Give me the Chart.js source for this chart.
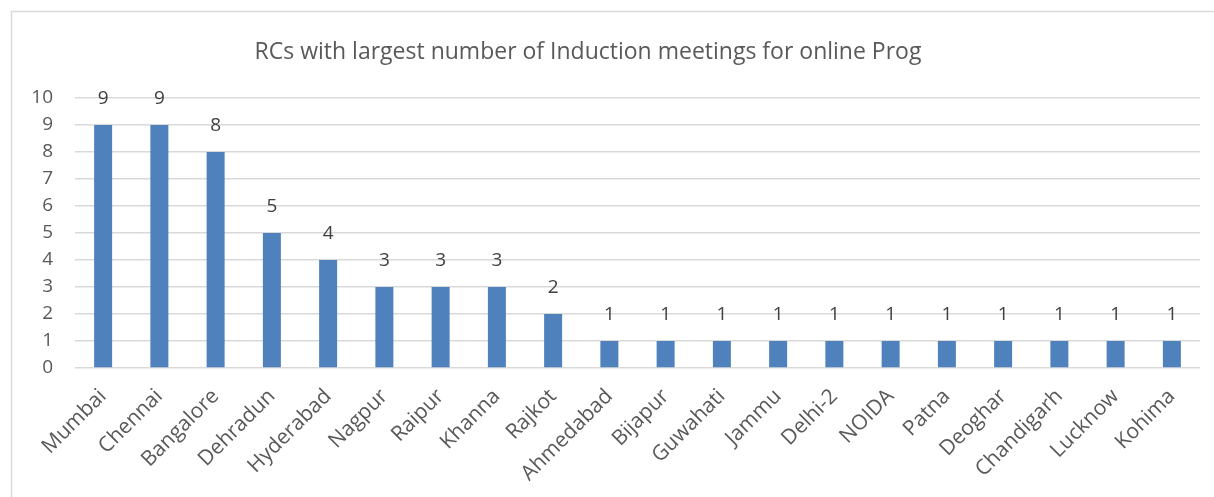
<!DOCTYPE html>
<html>
<head>
<meta charset="utf-8">
<script src="https://cdn.jsdelivr.net/npm/chart.js@4/dist/chart.umd.min.js"></script>
<style>
html,body{margin:0;padding:0;background:#fff;}
#wrap{width:1214px;height:497px;position:relative;}
</style>
</head>
<body>
<div id="wrap"><canvas id="c" width="1214" height="497"></canvas></div>
<script>
const titleText = "RCs with largest number of Induction meetings for online Prog";
const categories = ["Mumbai","Chennai","Bangalore","Dehradun","Hyderabad","Nagpur","Raipur","Khanna","Rajkot","Ahmedabad","Bijapur","Guwahati","Jammu","Delhi-2","NOIDA","Patna","Deoghar","Chandigarh","Lucknow","Kohima"];
const meetings = [9,9,8,5,4,3,3,3,2,1,1,1,1,1,1,1,1,1,1,1];
const yTicks = [0,1,2,3,4,5,6,7,8,9,10];

const FONT = "'Open Sans', sans-serif";
const TXT = "#595959";

const borderPlugin = {
  id: 'frame',
  beforeDraw(chart){
    const ctx = chart.ctx;
    ctx.save();
    ctx.fillStyle = '#fff';
    ctx.fillRect(0,0,chart.width,chart.height);
    ctx.strokeStyle = '#d9d9d9';
    ctx.lineWidth = 1.5;
    ctx.strokeRect(11.5, 11.5, chart.width + 10, chart.height + 10);
    ctx.restore();
  },
  afterLayout(chart){
    // centre the title on the (wider) chart frame, as in the original
    if (chart.titleBlock) { chart.titleBlock.left -= 36; }
  }
};

const valueLabels = {
  id: 'valueLabels',
  afterDatasetsDraw(chart){
    const ctx = chart.ctx;
    const meta = chart.getDatasetMeta(0);
    ctx.save();
    ctx.font = "19px " + FONT;
    ctx.fillStyle = "#404040";
    ctx.textAlign = 'center';
    ctx.textBaseline = 'middle';
    meta.data.forEach((bar, i) => {
      ctx.fillText(String(meetings[i]), bar.x, bar.y - 26);
    });
    ctx.restore();
  }
};

new Chart(document.getElementById('c'), {
  type: 'bar',
  data: {
    labels: categories,
    datasets: [{
      data: meetings,
      backgroundColor: '#4F81BD',
      borderWidth: 0,
      barPercentage: 0.32,
      categoryPercentage: 1.0
    }]
  },
  options: {
    responsive: false,
    animation: false,
    devicePixelRatio: 1,
    layout: { padding: { left: 12, right: 14, top: 0, bottom: 0 } },
    plugins: {
      legend: { display: false },
      tooltip: { enabled: false },
      title: {
        display: true,
        text: titleText,
        color: TXT,
        font: { family: FONT, size: 23, weight: 'normal', lineHeight: 1.2 },
        padding: { top: 39, bottom: 31.4 }
      }
    },
    scales: {
      x: {
        grid: { display: false, drawTicks: false },
        border: { display: false },
        ticks: {
          color: TXT,
          font: { family: FONT, size: 21 },
          maxRotation: 45,
          minRotation: 45,
          autoSkip: false,
          padding: 16
        },
        afterFit(s){ s.height = 129; }
      },
      y: {
        min: 0,
        max: 10,
        afterBuildTicks(s){ s.ticks = yTicks.map(v => ({value: v})); },
        grid: { color: '#d9d9d9', lineWidth: 1.5, drawTicks: false },
        border: { display: false },
        ticks: {
          color: TXT,
          font: { family: FONT, size: 19 },
          padding: 22
        },
        afterFit(s){ s.width = 63; }
      }
    }
  },
  plugins: [borderPlugin, valueLabels]
});
</script>
</body>
</html>
